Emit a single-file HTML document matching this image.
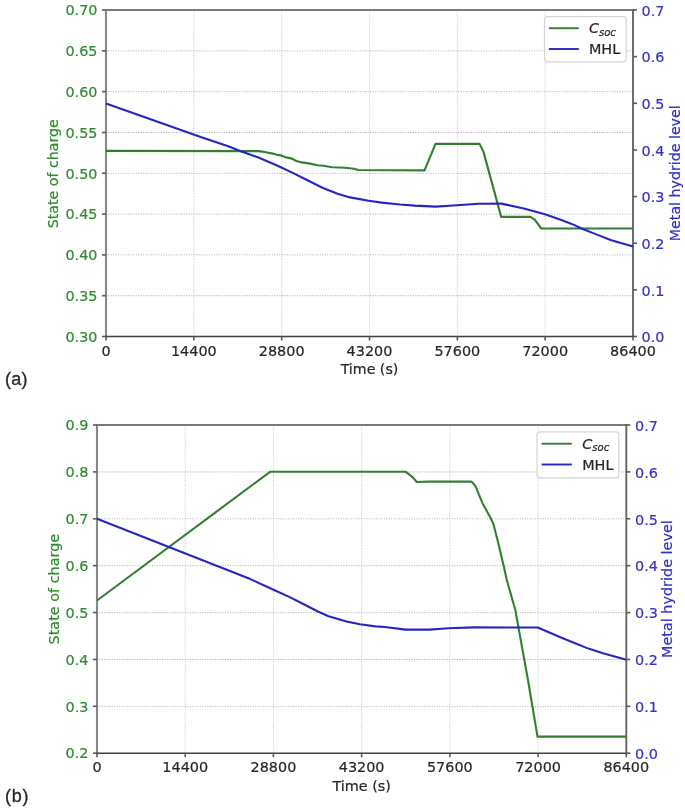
<!DOCTYPE html>
<html><head><meta charset="utf-8"><title>Charts</title>
<style>html,body{margin:0;padding:0;background:#fff;width:685px;height:809px;overflow:hidden}svg{display:block}</style>
</head><body>
<svg width="685" height="809" viewBox="0 0 685 809" font-family="'DejaVu Sans', sans-serif">
<defs><filter id="bl" filterUnits="userSpaceOnUse" x="0" y="0" width="685" height="809"><feGaussianBlur stdDeviation="0.55"/></filter></defs>
<rect width="685" height="809" fill="#fff"/>
<g filter="url(#bl)">
<style>text{stroke-width:0.2px}</style>
<g stroke="#b4b4b4" stroke-width="1.25" stroke-linecap="round" stroke-dasharray="0,2.52"><line x1="193.83" y1="10" x2="193.83" y2="336.5" stroke="#cacaca"/><line x1="281.67" y1="10" x2="281.67" y2="336.5" stroke="#cacaca"/><line x1="369.50" y1="10" x2="369.50" y2="336.5" stroke="#cacaca"/><line x1="457.33" y1="10" x2="457.33" y2="336.5" stroke="#cacaca"/><line x1="545.17" y1="10" x2="545.17" y2="336.5" stroke="#cacaca"/><line x1="106" y1="295.69" x2="633" y2="295.69"/><line x1="106" y1="254.87" x2="633" y2="254.87"/><line x1="106" y1="214.06" x2="633" y2="214.06"/><line x1="106" y1="173.25" x2="633" y2="173.25"/><line x1="106" y1="132.44" x2="633" y2="132.44"/><line x1="106" y1="91.62" x2="633" y2="91.62"/><line x1="106" y1="50.81" x2="633" y2="50.81"/></g>
<g stroke-linecap="square"><line x1="106" y1="10" x2="633" y2="10" stroke="#7a7a7a" stroke-width="1.9"/><line x1="106" y1="10" x2="106" y2="336.5" stroke="#888888" stroke-width="2.1"/><line x1="633" y1="10" x2="633" y2="336.5" stroke="#666666" stroke-width="1.9"/><line x1="106" y1="336.5" x2="633" y2="336.5" stroke="#404040" stroke-width="1.6"/></g>
<polyline points="106.0,150.9 259.1,151.1 265.7,152.3 273.0,153.6 277.4,154.9 281.0,155.4 286.1,157.4 292.0,158.6 296.4,161.0 300.0,162.1 308.8,163.4 317.5,165.3 323.4,165.8 332.1,167.2 345.3,167.8 354.0,168.7 358.4,170.0 424.5,170.4 435.5,143.9 479.6,143.9 483.5,151.9 501.2,216.9 530.4,216.9 534.7,219.7 541.3,228.5 633.0,228.5" fill="none" stroke="#317f31" stroke-width="2.1" stroke-linejoin="round" stroke-linecap="butt"/>
<polyline points="106.0,103.5 200.0,136.7 227.5,146.1 241.5,151.4 259.0,157.8 274.2,164.2 281.4,167.5 293.8,173.4 308.4,180.7 323.0,188.0 337.6,193.8 350.0,197.4 358.4,198.9 368.6,200.8 381.8,202.6 400.0,204.5 414.6,205.6 435.8,206.6 456.9,205.2 478.8,203.7 501.2,203.6 523.8,208.5 545.0,214.3 560.0,219.6 571.7,223.9 583.4,229.2 595.0,233.9 611.4,240.3 633.0,246.5" fill="none" stroke="#2727c0" stroke-width="2.1" stroke-linejoin="round" stroke-linecap="butt"/>
<g stroke="#5a5a5a" stroke-width="1.6"><line x1="106.00" y1="336.5" x2="106.00" y2="340.5"/><line x1="193.83" y1="336.5" x2="193.83" y2="340.5"/><line x1="281.67" y1="336.5" x2="281.67" y2="340.5"/><line x1="369.50" y1="336.5" x2="369.50" y2="340.5"/><line x1="457.33" y1="336.5" x2="457.33" y2="340.5"/><line x1="545.17" y1="336.5" x2="545.17" y2="340.5"/><line x1="633.00" y1="336.5" x2="633.00" y2="340.5"/><line x1="102" y1="336.50" x2="106" y2="336.50"/><line x1="102" y1="295.69" x2="106" y2="295.69"/><line x1="102" y1="254.87" x2="106" y2="254.87"/><line x1="102" y1="214.06" x2="106" y2="214.06"/><line x1="102" y1="173.25" x2="106" y2="173.25"/><line x1="102" y1="132.44" x2="106" y2="132.44"/><line x1="102" y1="91.62" x2="106" y2="91.62"/><line x1="102" y1="50.81" x2="106" y2="50.81"/><line x1="102" y1="10.00" x2="106" y2="10.00"/><line x1="633" y1="336.50" x2="637" y2="336.50"/><line x1="633" y1="289.86" x2="637" y2="289.86"/><line x1="633" y1="243.21" x2="637" y2="243.21"/><line x1="633" y1="196.57" x2="637" y2="196.57"/><line x1="633" y1="149.93" x2="637" y2="149.93"/><line x1="633" y1="103.29" x2="637" y2="103.29"/><line x1="633" y1="56.64" x2="637" y2="56.64"/><line x1="633" y1="10.00" x2="637" y2="10.00"/></g>
<g font-size="14.4"><text x="106.00" y="355.80" text-anchor="middle" fill="#262626" stroke="#262626">0</text><text x="193.83" y="355.80" text-anchor="middle" fill="#262626" stroke="#262626">14400</text><text x="281.67" y="355.80" text-anchor="middle" fill="#262626" stroke="#262626">28800</text><text x="369.50" y="355.80" text-anchor="middle" fill="#262626" stroke="#262626">43200</text><text x="457.33" y="355.80" text-anchor="middle" fill="#262626" stroke="#262626">57600</text><text x="545.17" y="355.80" text-anchor="middle" fill="#262626" stroke="#262626">72000</text><text x="633.00" y="355.80" text-anchor="middle" fill="#262626" stroke="#262626">86400</text><text x="97.5" y="341.75" text-anchor="end" fill="#2f8a2f" stroke="#2f8a2f">0.30</text><text x="97.5" y="300.94" text-anchor="end" fill="#2f8a2f" stroke="#2f8a2f">0.35</text><text x="97.5" y="260.12" text-anchor="end" fill="#2f8a2f" stroke="#2f8a2f">0.40</text><text x="97.5" y="219.31" text-anchor="end" fill="#2f8a2f" stroke="#2f8a2f">0.45</text><text x="97.5" y="178.50" text-anchor="end" fill="#2f8a2f" stroke="#2f8a2f">0.50</text><text x="97.5" y="137.69" text-anchor="end" fill="#2f8a2f" stroke="#2f8a2f">0.55</text><text x="97.5" y="96.87" text-anchor="end" fill="#2f8a2f" stroke="#2f8a2f">0.60</text><text x="97.5" y="56.06" text-anchor="end" fill="#2f8a2f" stroke="#2f8a2f">0.65</text><text x="97.5" y="15.25" text-anchor="end" fill="#2f8a2f" stroke="#2f8a2f">0.70</text><text x="641.5" y="342.25" fill="#3430c6" stroke="#3430c6">0.0</text><text x="641.5" y="295.61" fill="#3430c6" stroke="#3430c6">0.1</text><text x="641.5" y="248.96" fill="#3430c6" stroke="#3430c6">0.2</text><text x="641.5" y="202.32" fill="#3430c6" stroke="#3430c6">0.3</text><text x="641.5" y="155.68" fill="#3430c6" stroke="#3430c6">0.4</text><text x="641.5" y="109.03" fill="#3430c6" stroke="#3430c6">0.5</text><text x="641.5" y="62.39" fill="#3430c6" stroke="#3430c6">0.6</text><text x="641.5" y="15.75" fill="#3430c6" stroke="#3430c6">0.7</text></g>
<text x="369.50" y="374.00" text-anchor="middle" fill="#262626" stroke="#262626" font-size="14.2">Time (s)</text>
<text transform="translate(58.40,173.75) rotate(-90)" text-anchor="middle" fill="#2f8a2f" stroke="#2f8a2f" font-size="14.2">State of charge</text>
<text transform="translate(679.80,173.25) rotate(-90)" text-anchor="middle" fill="#3430c6" stroke="#3430c6" font-size="14.2">Metal hydride level</text>
<rect x="544.5" y="16.6" width="81.70000000000005" height="45.199999999999996" rx="3" ry="3" fill="#fff" fill-opacity="0.96" stroke="#d6d6d6" stroke-width="1.2"/>
<line x1="548.9" y1="28.2" x2="578.8" y2="28.2" stroke="#317f31" stroke-width="1.9"/>
<line x1="548.9" y1="49" x2="578.8" y2="49" stroke="#2727c0" stroke-width="1.9"/>
<text x="588.9" y="33.45" fill="#262626" stroke="#262626" font-size="14.4"><tspan font-style="italic">C</tspan><tspan font-style="italic" font-size="10.08" dy="2.2">soc</tspan></text>
<text x="588.9" y="54.25" fill="#262626" stroke="#262626" font-size="14.4">MHL</text>
<g stroke="#b4b4b4" stroke-width="1.25" stroke-linecap="round" stroke-dasharray="0,2.52"><line x1="185.22" y1="425" x2="185.22" y2="753.2" stroke="#cacaca"/><line x1="273.43" y1="425" x2="273.43" y2="753.2" stroke="#cacaca"/><line x1="361.65" y1="425" x2="361.65" y2="753.2" stroke="#cacaca"/><line x1="449.87" y1="425" x2="449.87" y2="753.2" stroke="#cacaca"/><line x1="538.08" y1="425" x2="538.08" y2="753.2" stroke="#cacaca"/><line x1="97" y1="706.31" x2="626.3" y2="706.31"/><line x1="97" y1="659.43" x2="626.3" y2="659.43"/><line x1="97" y1="612.54" x2="626.3" y2="612.54"/><line x1="97" y1="565.66" x2="626.3" y2="565.66"/><line x1="97" y1="518.77" x2="626.3" y2="518.77"/><line x1="97" y1="471.89" x2="626.3" y2="471.89"/></g>
<g stroke-linecap="square"><line x1="97" y1="425" x2="626.3" y2="425" stroke="#7a7a7a" stroke-width="1.9"/><line x1="97" y1="425" x2="97" y2="753.2" stroke="#888888" stroke-width="2.1"/><line x1="626.3" y1="425" x2="626.3" y2="753.2" stroke="#666666" stroke-width="1.9"/><line x1="97" y1="753.2" x2="626.3" y2="753.2" stroke="#404040" stroke-width="1.6"/></g>
<polyline points="97.0,600.5 270.1,471.8 405.8,471.8 409.5,474.7 413.1,477.6 416.8,482.0 427.7,481.6 471.5,481.6 475.2,485.7 482.5,503.2 490.5,517.8 493.4,523.9 497.7,540.7 503.6,565.5 506.8,580.0 515.4,610.3 518.5,627.6 527.8,679.0 537.5,736.6 626.3,736.6" fill="none" stroke="#317f31" stroke-width="2.1" stroke-linejoin="round" stroke-linecap="butt"/>
<polyline points="97.0,518.7 250.3,579.1 274.6,590.3 289.2,596.9 303.8,604.2 318.4,611.8 328.6,616.3 339.6,619.5 347.6,621.7 360.0,624.3 375.5,626.4 385.0,627.0 405.5,629.6 429.6,629.6 448.6,628.3 473.4,627.4 537.7,627.5 559.2,636.8 573.8,642.7 588.4,648.6 603.0,653.2 626.3,659.7" fill="none" stroke="#2727c0" stroke-width="2.1" stroke-linejoin="round" stroke-linecap="butt"/>
<g stroke="#5a5a5a" stroke-width="1.6"><line x1="97.00" y1="753.2" x2="97.00" y2="757.2"/><line x1="185.22" y1="753.2" x2="185.22" y2="757.2"/><line x1="273.43" y1="753.2" x2="273.43" y2="757.2"/><line x1="361.65" y1="753.2" x2="361.65" y2="757.2"/><line x1="449.87" y1="753.2" x2="449.87" y2="757.2"/><line x1="538.08" y1="753.2" x2="538.08" y2="757.2"/><line x1="626.30" y1="753.2" x2="626.30" y2="757.2"/><line x1="93" y1="753.20" x2="97" y2="753.20"/><line x1="93" y1="706.31" x2="97" y2="706.31"/><line x1="93" y1="659.43" x2="97" y2="659.43"/><line x1="93" y1="612.54" x2="97" y2="612.54"/><line x1="93" y1="565.66" x2="97" y2="565.66"/><line x1="93" y1="518.77" x2="97" y2="518.77"/><line x1="93" y1="471.89" x2="97" y2="471.89"/><line x1="93" y1="425.00" x2="97" y2="425.00"/><line x1="626.3" y1="753.20" x2="630.3" y2="753.20"/><line x1="626.3" y1="706.31" x2="630.3" y2="706.31"/><line x1="626.3" y1="659.43" x2="630.3" y2="659.43"/><line x1="626.3" y1="612.54" x2="630.3" y2="612.54"/><line x1="626.3" y1="565.66" x2="630.3" y2="565.66"/><line x1="626.3" y1="518.77" x2="630.3" y2="518.77"/><line x1="626.3" y1="471.89" x2="630.3" y2="471.89"/><line x1="626.3" y1="425.00" x2="630.3" y2="425.00"/></g>
<g font-size="14.4"><text x="97.00" y="772.30" text-anchor="middle" fill="#262626" stroke="#262626">0</text><text x="185.22" y="772.30" text-anchor="middle" fill="#262626" stroke="#262626">14400</text><text x="273.43" y="772.30" text-anchor="middle" fill="#262626" stroke="#262626">28800</text><text x="361.65" y="772.30" text-anchor="middle" fill="#262626" stroke="#262626">43200</text><text x="449.87" y="772.30" text-anchor="middle" fill="#262626" stroke="#262626">57600</text><text x="538.08" y="772.30" text-anchor="middle" fill="#262626" stroke="#262626">72000</text><text x="626.30" y="772.30" text-anchor="middle" fill="#262626" stroke="#262626">86400</text><text x="88.5" y="758.45" text-anchor="end" fill="#2f8a2f" stroke="#2f8a2f">0.2</text><text x="88.5" y="711.56" text-anchor="end" fill="#2f8a2f" stroke="#2f8a2f">0.3</text><text x="88.5" y="664.68" text-anchor="end" fill="#2f8a2f" stroke="#2f8a2f">0.4</text><text x="88.5" y="617.79" text-anchor="end" fill="#2f8a2f" stroke="#2f8a2f">0.5</text><text x="88.5" y="570.91" text-anchor="end" fill="#2f8a2f" stroke="#2f8a2f">0.6</text><text x="88.5" y="524.02" text-anchor="end" fill="#2f8a2f" stroke="#2f8a2f">0.7</text><text x="88.5" y="477.13" text-anchor="end" fill="#2f8a2f" stroke="#2f8a2f">0.8</text><text x="88.5" y="430.25" text-anchor="end" fill="#2f8a2f" stroke="#2f8a2f">0.9</text><text x="635.0" y="758.95" fill="#3430c6" stroke="#3430c6">0.0</text><text x="635.0" y="712.06" fill="#3430c6" stroke="#3430c6">0.1</text><text x="635.0" y="665.18" fill="#3430c6" stroke="#3430c6">0.2</text><text x="635.0" y="618.29" fill="#3430c6" stroke="#3430c6">0.3</text><text x="635.0" y="571.41" fill="#3430c6" stroke="#3430c6">0.4</text><text x="635.0" y="524.52" fill="#3430c6" stroke="#3430c6">0.5</text><text x="635.0" y="477.63" fill="#3430c6" stroke="#3430c6">0.6</text><text x="635.0" y="430.75" fill="#3430c6" stroke="#3430c6">0.7</text></g>
<text x="361.65" y="791.10" text-anchor="middle" fill="#262626" stroke="#262626" font-size="14.4">Time (s)</text>
<text transform="translate(58.60,589.10) rotate(-90)" text-anchor="middle" fill="#2f8a2f" stroke="#2f8a2f" font-size="14.4">State of charge</text>
<text transform="translate(672.20,589.10) rotate(-90)" text-anchor="middle" fill="#3430c6" stroke="#3430c6" font-size="14.4">Metal hydride level</text>
<rect x="537" y="431.9" width="81.79999999999995" height="46.0" rx="3" ry="3" fill="#fff" fill-opacity="0.96" stroke="#d6d6d6" stroke-width="1.2"/>
<line x1="541.6" y1="443.7" x2="571.8" y2="443.7" stroke="#317f31" stroke-width="1.9"/>
<line x1="541.6" y1="464.5" x2="571.8" y2="464.5" stroke="#2727c0" stroke-width="1.9"/>
<text x="582.2" y="448.95" fill="#262626" stroke="#262626" font-size="14.4"><tspan font-style="italic">C</tspan><tspan font-style="italic" font-size="10.08" dy="2.2">soc</tspan></text>
<text x="582.2" y="469.75" fill="#262626" stroke="#262626" font-size="14.4">MHL</text>
<text x="5" y="384.5" font-family="'Liberation Sans', sans-serif" font-size="18" letter-spacing="0.2" fill="#262626" stroke="#262626" style="stroke-width:0.3px">(a)</text>
<text x="5" y="802" font-family="'Liberation Sans', sans-serif" font-size="18" letter-spacing="0.8" fill="#262626" stroke="#262626" style="stroke-width:0.3px">(b)</text>
</g>
</svg>
</body></html>
